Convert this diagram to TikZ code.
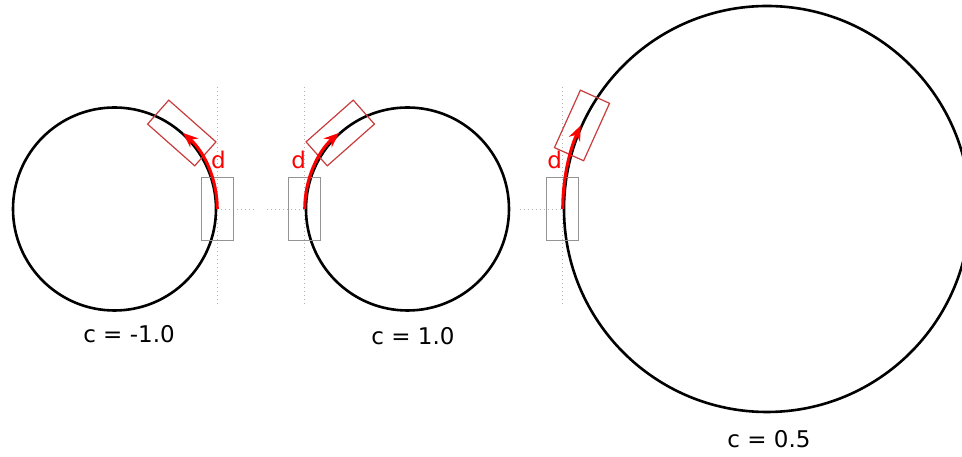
\documentclass[tikz,border=0pt]{standalone}
\usepackage{fontspec}
\setmainfont{DejaVu Sans}
\usetikzlibrary{arrows.meta, positioning, calc}
\definecolor{boxred}{RGB}{200,60,60}

\begin{document}
\begin{tikzpicture}[
        x=1pt, y=1pt,
        every node/.style={font=\fontsize{23}{27}\selectfont},
        wheel/.style={draw, circle, line width=2.6pt, inner sep=0pt},
        probe/.style={draw=gray!85, line width=1.4pt, minimum width=32pt, minimum height=63pt, inner sep=0pt},
        moved/.style={draw=boxred, line width=1.2pt, minimum width=32pt, minimum height=63pt, inner sep=0pt},
        guide/.style={draw=gray!60, line width=0.9pt, dash pattern=on 1pt off 3pt},
        travel/.style={draw=red, line width=3pt, -{Stealth[length=15pt, width=12pt]}},
        dlabel/.style={text=red, inner sep=0pt},
        clabel/.style={anchor=base}
    ]
        \useasboundingbox (0,0) rectangle (962,457);
        \clip (0,0) rectangle (962,457);

        % Wheels
        \node[wheel, minimum size=203pt] (w1) at (114.5,248) {};
        \node[wheel, minimum size=203pt] (w2) at (407.5,248) {};
        \node[wheel, minimum size=406pt] (w3) at (767,248) {};

        % Guides
        \draw[guide] ([yshift=122pt]w1.east) -- ([yshift=-96pt]w1.east);
        \draw[guide] ([yshift=122pt]w2.west) -- ([yshift=-96pt]w2.west);
        \draw[guide] ([yshift=122pt]w3.west) -- ([yshift=-96pt]w3.west);
        \draw[guide] (w1.east) -- ([xshift=37pt]w1.east);
        \draw[guide] ([xshift=-38pt]w2.west) -- (w2.west);
        \draw[guide] ([xshift=-43pt]w3.west) -- (w3.west);

        % Start and end positions
        \node[probe] (p1) at (w1.east) {};
        \node[probe] (p2) at (w2.west) {};
        \node[probe] (p3) at (w3.west) {};
        \node[moved, rotate=48.5] (m1) at ($(w1.center)+(48.5:101.5)$) {};
        \node[moved, rotate=-48.5] (m2) at ($(w2.center)+(131.5:101.5)$) {};
        \node[moved, rotate=-24.3] (m3) at ($(w3.center)+(155.7:203)$) {};

        % Travelled distance
        \draw[travel] (p1.center) arc[start angle=0, end angle=48.5, radius=101.5];
        \draw[travel] (p2.center) arc[start angle=180, end angle=131.5, radius=101.5];
        \draw[travel] (p3.center) arc[start angle=180, end angle=155.7, radius=203];
        \node[dlabel, above=8pt of p1.north, xshift=1pt] (d1) {d};
        \node[dlabel, above=8pt of p2.north, xshift=-6pt] (d2) {d};
        \node[dlabel, above=8pt of p3.north, xshift=-8pt] (d3) {d};

        % Curvatures
        \node[clabel] (c1) at (129,114) {c = -1.0};
        \node[clabel] (c2) at (413,112) {c = 1.0};
        \node[clabel] (c3) at (769,9) {c = 0.5};
    \end{tikzpicture}
\end{document}
